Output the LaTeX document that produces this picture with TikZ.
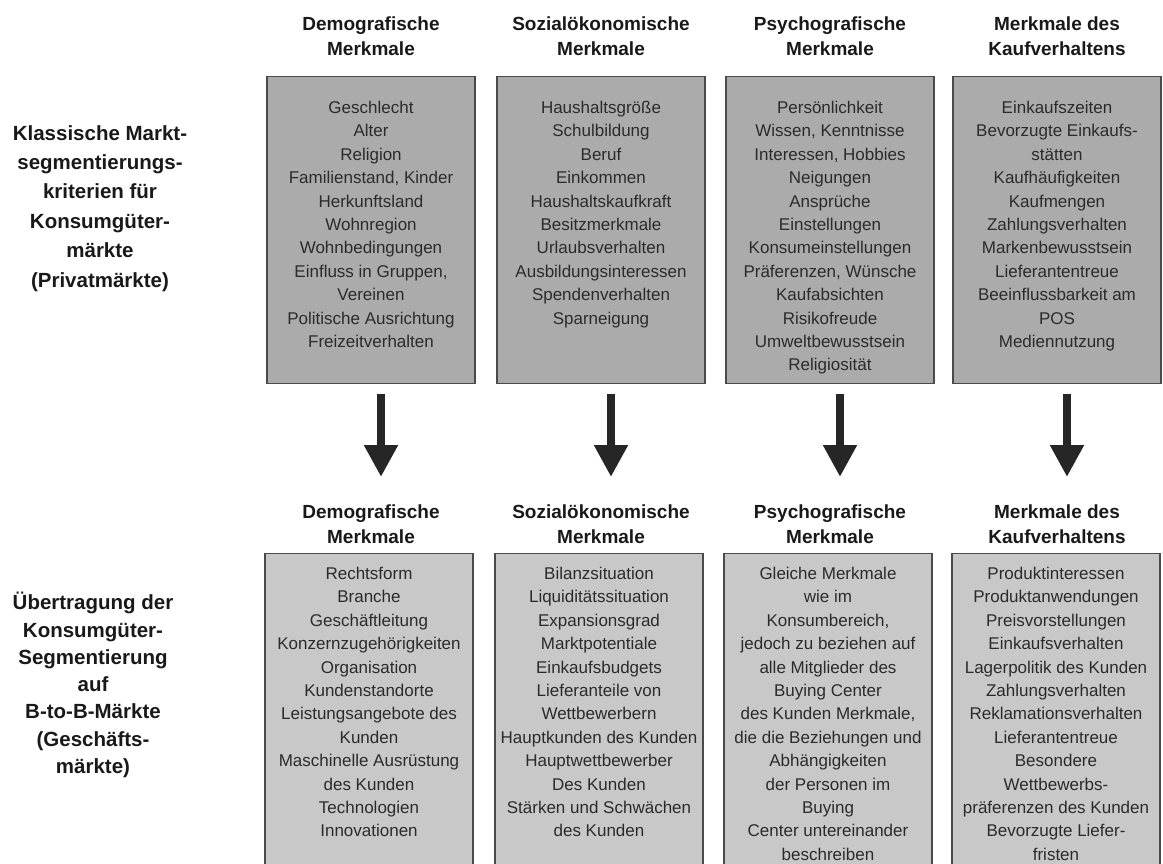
\documentclass[tikz,border=0pt]{standalone}
\usepackage{fontspec}
\setmainfont{Liberation Sans}
\usepackage{tikz}
\usetikzlibrary{arrows.meta,positioning}
\definecolor{boxtop}{HTML}{ABABAB}
\definecolor{boxlow}{HTML}{C8C8C8}
\definecolor{rim}{HTML}{4A4A4A}
\definecolor{ink}{HTML}{2B2B2B}
\tikzset{
  ar/.style={-{Triangle[width=32pt,length=32pt]},line width=8pt,black!85},
  box/.style={draw=rim,line width=1.4pt,fill=boxtop,minimum width=208pt,minimum height=307pt,anchor=north,inner sep=0pt},
  lowbox/.style={box,fill=boxlow,minimum height=340pt},
  list/.style={align=center,inner sep=0pt,text=ink,font=\fontsize{17}{23.4}\selectfont},
  head/.style={anchor=north,align=center,inner sep=0pt,text=black!90,font=\bfseries\fontsize{19}{25}\selectfont},
  side/.style={anchor=north,align=center,inner sep=0pt,text=black!90,font=\bfseries\fontsize{20.5}{29.4}\selectfont}
}

\begin{document}
\begin{tikzpicture}[x=1pt,y=1pt]
\useasboundingbox (0,0) rectangle (1163,-863);
\clip (0,0) rectangle (1163,-863);
% Konsumgütermärkte
\node[side] (kside) at (100,-125) {Klassische Markt-\\segmentierungs-\\kriterien für\\Konsumgüter-\\märkte\\(Privatmärkte)};
\node[head] (khead1) at (371,-17) {Demografische\\Merkmale};
\node[head] (khead2) at (601,-17) {Sozialökonomische\\Merkmale};
\node[head] (khead3) at (830,-17) {Psychografische\\Merkmale};
\node[head] (khead4) at (1057,-17) {Merkmale des\\Kaufverhaltens};
\node[box] (kbox1) at (371,-76) {};
\node[box] (kbox2) at (601,-76) {};
\node[box] (kbox3) at (830,-76) {};
\node[box] (kbox4) at (1057,-76) {};
\node[list,below=25pt of kbox1.north] (klist1) {Geschlecht\\Alter\\Religion\\Familienstand, Kinder\\Herkunftsland\\Wohnregion\\Wohnbedingungen\\Einfluss in Gruppen,\\Vereinen\\Politische Ausrichtung\\Freizeitverhalten};
\node[list,below=25pt of kbox2.north] (klist2) {Haushaltsgröße\\Schulbildung\\Beruf\\Einkommen\\Haushaltskaufkraft\\Besitzmerkmale\\Urlaubsverhalten\\Ausbildungsinteressen\\Spendenverhalten\\Sparneigung};
\node[list,below=25pt of kbox3.north] (klist3) {Persönlichkeit\\Wissen, Kenntnisse\\Interessen, Hobbies\\Neigungen\\Ansprüche\\Einstellungen\\Konsumeinstellungen\\Präferenzen, Wünsche\\Kaufabsichten\\Risikofreude\\Umweltbewusstsein\\Religiosität};
\node[list,below=25pt of kbox4.north] (klist4) {Einkaufszeiten\\Bevorzugte Einkaufs-\\stätten\\Kaufhäufigkeiten\\Kaufmengen\\Zahlungsverhalten\\Markenbewusstsein\\Lieferantentreue\\Beeinflussbarkeit am\\POS\\Mediennutzung};
% B-to-B-Märkte
\node[side,font=\bfseries\fontsize{20.5}{27.3}\selectfont] (bside) at (93,-592) {Übertragung der\\Konsumgüter-\\Segmentierung\\auf\\B-to-B-Märkte\\(Geschäfts-\\märkte)};
\node[head] (bhead1) at (371,-505) {Demografische\\Merkmale};
\node[head] (bhead2) at (601,-505) {Sozialökonomische\\Merkmale};
\node[head] (bhead3) at (830,-505) {Psychografische\\Merkmale};
\node[head] (bhead4) at (1057,-505) {Merkmale des\\Kaufverhaltens};
\node[lowbox] (bbox1) at (369,-553) {};
\node[lowbox] (bbox2) at (599,-553) {};
\node[lowbox] (bbox3) at (828,-553) {};
\node[lowbox] (bbox4) at (1056,-553) {};
\node[list,below=14pt of bbox1.north] (blist1) {Rechtsform\\Branche\\Geschäftleitung\\Konzernzugehörigkeiten\\Organisation\\Kundenstandorte\\Leistungsangebote des\\Kunden\\Maschinelle Ausrüstung\\des Kunden\\Technologien\\Innovationen};
\node[list,below=14pt of bbox2.north] (blist2) {Bilanzsituation\\Liquiditätssituation\\Expansionsgrad\\Marktpotentiale\\Einkaufsbudgets\\Lieferanteile von\\Wettbewerbern\\Hauptkunden des Kunden\\Hauptwettbewerber\\Des Kunden\\Stärken und Schwächen\\des Kunden};
\node[list,below=14pt of bbox3.north] (blist3) {Gleiche Merkmale\\wie im\\Konsumbereich,\\jedoch zu beziehen auf\\alle Mitglieder des\\Buying Center\\des Kunden Merkmale,\\die die Beziehungen und\\Abhängigkeiten\\der Personen im\\Buying\\Center untereinander\\beschreiben};
\node[list,below=14pt of bbox4.north] (blist4) {Produktinteressen\\Produktanwendungen\\Preisvorstellungen\\Einkaufsverhalten\\Lagerpolitik des Kunden\\Zahlungsverhalten\\Reklamationsverhalten\\Lieferantentreue\\Besondere\\Wettbewerbs-\\präferenzen des Kunden\\Bevorzugte Liefer-\\fristen};
% Pfeile
\foreach \i in {1,...,4}
  \draw[ar] ([xshift=10pt,yshift=-10pt]kbox\i.south) -- ([xshift=10pt,yshift=28pt]bhead\i.north);
\end{tikzpicture}
\end{document}
